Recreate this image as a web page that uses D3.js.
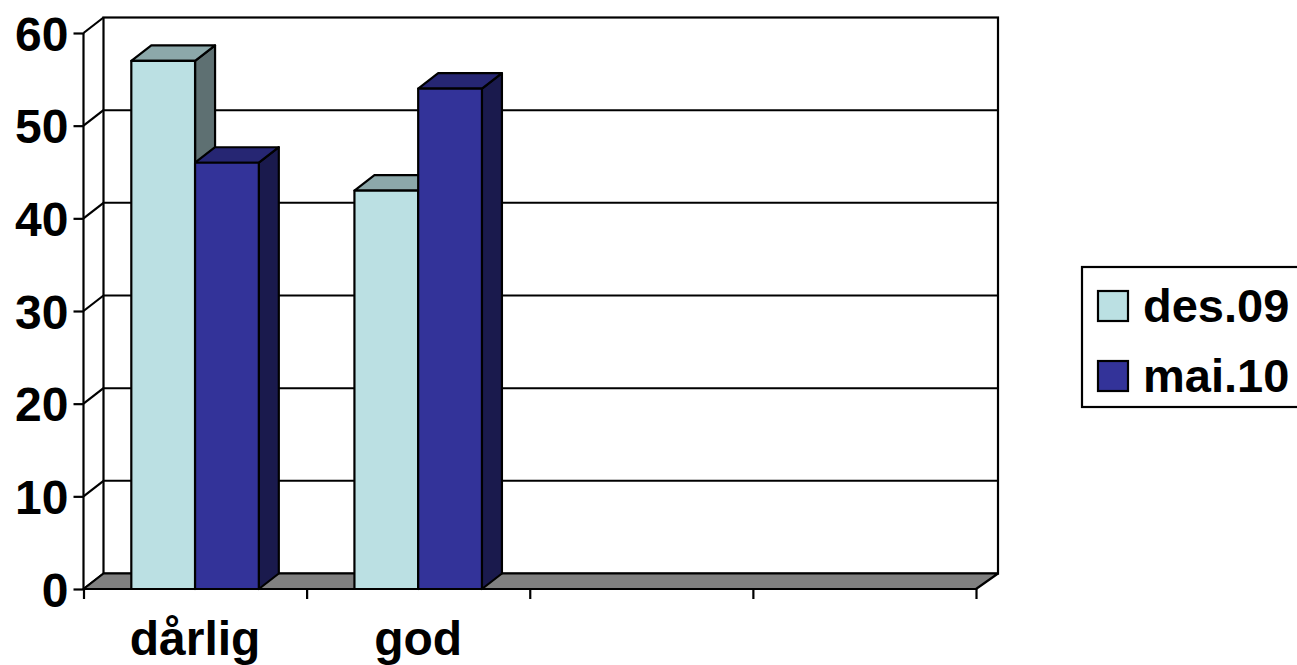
<!DOCTYPE html>
<html><head><meta charset="utf-8">
<script src="https://cdn.jsdelivr.net/npm/d3@7"></script>
<style>
html,body{margin:0;padding:0;background:#fff;overflow:hidden}
svg{display:block}
text{font-family:"Liberation Sans",Arial,sans-serif;font-weight:bold;fill:#000}
</style></head><body>
<svg id="c" width="1297" height="665"></svg>
<script>
const categories = ["dårlig","god"," ","  "];
const seriesNames = ["des.09","mai.10"];
const des09 = [57,43,null,null];
const mai10 = [46,54,null,null];
const yTicks = [0,10,20,30,40,50,60];
const seriesValues = [des09,mai10];
const colors = [
  {front:"#BBE0E3",top:"#8CA8AA",side:"#5E7072"},
  {front:"#333399",top:"#262673",side:"#1A1A4D"}
];
const depthX=20,depthY=15.5;
const svg=d3.select("#c");
const y=d3.scaleLinear().domain([0,60]).range([589,33]);
const x=d3.scaleBand().domain(categories).range([83.5,976]).paddingInner(0).paddingOuter(0);
const xs=d3.scaleBand().domain(d3.range(seriesNames.length)).range([0,x.bandwidth()]).paddingOuter(0.75).paddingInner(0);
const lw=2.2;
const stroke="#000";
const x0=x.range()[0],x1=x.range()[1];
const line=(a,b,c,d,w=lw)=>svg.append("line").attr("x1",a).attr("y1",b).attr("x2",c).attr("y2",d).attr("stroke",stroke).attr("stroke-width",w);
const poly=(pts,fill)=>svg.append("polygon").attr("points",pts.map(p=>p.join(",")).join(" ")).attr("fill",fill).attr("stroke",stroke).attr("stroke-width",lw).attr("stroke-linejoin","round");

// back wall and gridlines
svg.append("rect").attr("x",x0+depthX).attr("y",y(60)-depthY).attr("width",x1-x0+2).attr("height",y(0)-y(60)).attr("fill","none").attr("stroke",stroke).attr("stroke-width",lw);
yTicks.forEach(t=>{
  line(x0,y(t),x0+depthX,y(t)-depthY);
  if(t>0&&t<60) line(x0+depthX,y(t)-depthY,x1+depthX+2,y(t)-depthY,2);
});
// floor
poly([[x0,y(0)],[x0+depthX,y(0)-depthY],[x1+depthX+2,y(0)-depthY],[x1,y(0)]],"#808080");

// y axis
const ya=d3.axisLeft(y).tickValues(yTicks).tickSize(10).tickPadding(5).tickFormat(d3.format("d"));
const gy=svg.append("g").attr("transform",`translate(${x0},0)`).call(ya);
gy.selectAll("path,line").attr("stroke",stroke).attr("stroke-width",lw);
gy.select(".domain").attr("d",`M0,${y(60)}V${y(0)}`);
gy.selectAll("text").attr("font-size",48).attr("font-family",null).attr("dy","0.36em").style("font-family",'"Liberation Sans",Arial,sans-serif').style("font-weight","bold");

// x axis: tick marks at band edges
const edges=categories.map(c=>x(c)).concat(x1);
const xa=d3.axisBottom(d3.scaleLinear().domain([x0,x1]).range([x0,x1])).tickValues(edges).tickSize(10).tickFormat("");
const gx=svg.append("g").attr("transform",`translate(0,${y(0)})`).call(xa);
gx.selectAll("path,line").attr("stroke",stroke).attr("stroke-width",lw);
gx.select(".domain").attr("d",`M${x0},0H${x1}`);

// bars
categories.forEach((c,i)=>{
  seriesValues.forEach((vals,s)=>{
    const v=vals[i]; if(v==null) return;
    const bx=x(c)+xs(s),bw=xs.bandwidth(),t=y(v),b=y(0),col=colors[s];
    poly([[bx+bw,t],[bx+bw+depthX,t-depthY],[bx+bw+depthX,b-depthY],[bx+bw,b]],col.side);
    poly([[bx,t],[bx+depthX,t-depthY],[bx+bw+depthX,t-depthY],[bx+bw,t]],col.top);
    poly([[bx,t],[bx+bw,t],[bx+bw,b],[bx,b]],col.front);
  });
});

// category labels
categories.forEach(c=>{
  if(!c.trim())return;
  svg.append("text").attr("x",x(c)+x.bandwidth()/2).attr("y",655).attr("text-anchor","middle").attr("font-size",48).text(c);
});

// legend
const lg=svg.append("g");
lg.append("rect").attr("x",1082).attr("y",267).attr("width",230).attr("height",140).attr("fill","#fff").attr("stroke",stroke).attr("stroke-width",lw);
seriesNames.forEach((n,i)=>{
  const cy=306+i*70;
  lg.append("rect").attr("x",1098).attr("y",cy-15).attr("width",30).attr("height",30).attr("fill",colors[i].front).attr("stroke",stroke).attr("stroke-width",lw);
  lg.append("text").attr("x",1143).attr("y",cy+16).attr("font-size",47).text(n);
});
</script>
</body></html>
